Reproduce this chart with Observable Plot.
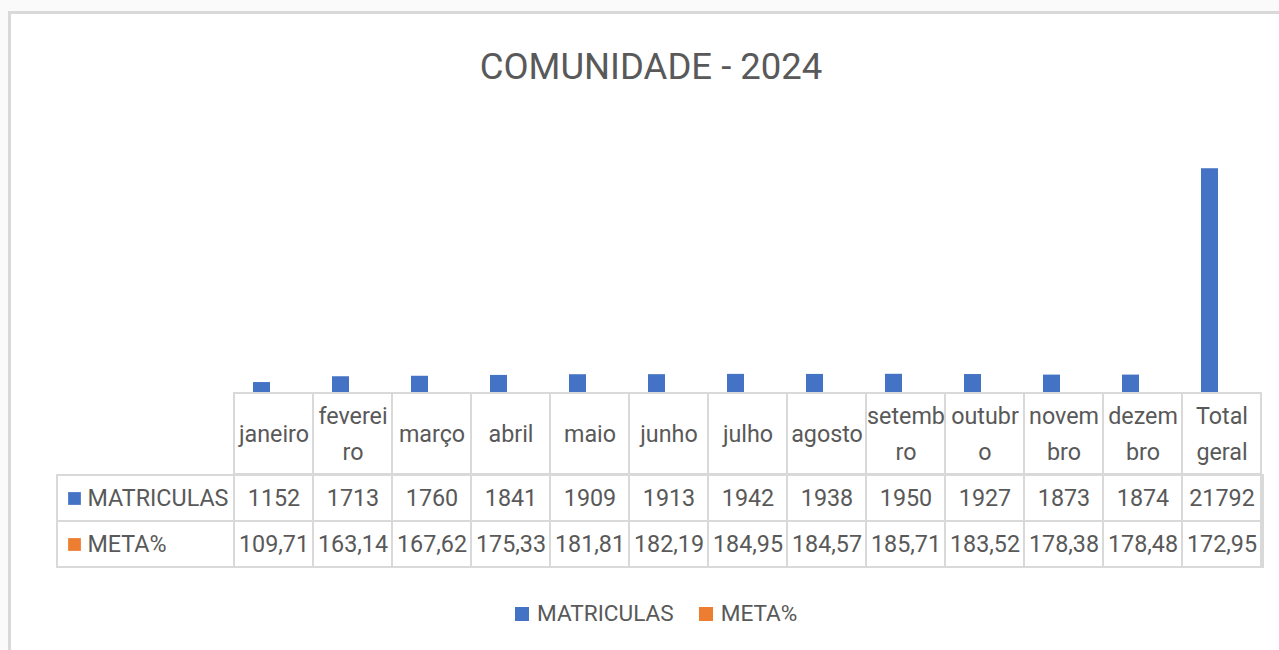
<!DOCTYPE html>
<html>
<head>
<meta charset="utf-8">
<script src="https://cdn.jsdelivr.net/npm/d3@7"></script>
<script src="https://cdn.jsdelivr.net/npm/@observablehq/plot@0.6"></script>
<style>
  html, body { margin: 0; padding: 0; background: #fafafa; }
  #root { position: relative; width: 1279px; height: 650px; overflow: hidden; font-family: Roboto, "Open Sans", sans-serif; color: #595959; }
  #frame { position: absolute; left: 8px; top: 11px; width: 1400px; height: 800px; border: 3px solid #d9d9d9; background: #ffffff; box-sizing: border-box; }
  #title { position: absolute; left: 0; top: 45px; width: 1302px; text-align: center; font-size: 36.5px; line-height: 44px; color: #595959; }
  .abs { position: absolute; left: 0; }
  #legend { position: absolute; left: 515px; top: 597px; }
  #legend svg { margin-right: 8px !important; }
  #legend span { margin-right: 25px !important; }
</style>
</head>
<body>
<div id="root">
  <div id="frame"></div>
  <div id="title">COMUNIDADE - 2024</div>
  <div id="bars" class="abs" style="top:135px"></div>
  <div id="header" class="abs" style="top:391px"></div>
  <div id="body" class="abs" style="top:472px"></div>
  <div id="legend"></div>
</div>
<script>
// ---- data ----
const months = ["janeiro","fevereiro","março","abril","maio","junho","julho","agosto","setembro","outubro","novembro","dezembro","Total geral"];
const headerLabels = ["janeiro","feverei\nro","março","abril","maio","junho","julho","agosto","setemb\nro","outubr\no","novem\nbro","dezem\nbro","Total\ngeral"];
const matriculas = [1152,1713,1760,1841,1909,1913,1942,1938,1950,1927,1873,1874,21792];
const meta = [109.71,163.14,167.62,175.33,181.81,182.19,184.95,184.57,185.71,183.52,178.38,178.48,172.95];
const series = ["MATRICULAS","META%"];
const colors = ["#4472c4","#ed7d31"];
const yMax = 25000;

const data = months.flatMap((m, i) => [
  {month: m, series: "MATRICULAS", value: matriculas[i]},
  {month: m, series: "META%", value: meta[i]}
]);
const fmt = d => d.series === "META%" ? d.value.toFixed(2).replace(".", ",") : String(d.value);

const FONT = "Roboto, 'Open Sans', sans-serif";
const TEXT = "#595959";
const GRID = "#d9d9d9";
const FS = 23.3;
const W = 1279, ML = 231, MR = 16;

// ---- bars ----
const bars = Plot.plot({
  width: W, height: 259,
  marginLeft: ML, marginRight: MR, marginTop: 0, marginBottom: 0,
  style: {fontFamily: FONT, background: "transparent", overflow: "visible"},
  fx: {domain: months, padding: 0, axis: null},
  x: {domain: series, paddingInner: 0, paddingOuter: 1.205, align: 0.43, axis: null},
  y: {domain: [0, yMax], axis: null},
  color: {domain: series, range: colors},
  marks: [
    Plot.barY(data, {fx: "month", x: "series", y: "value", fill: "series"})
  ]
});
document.getElementById("bars").appendChild(bars);

// ---- table header row ----
const header = Plot.plot({
  width: W, height: 85,
  marginLeft: ML, marginRight: MR, marginTop: 2, marginBottom: 2,
  style: {fontFamily: FONT, background: "transparent", color: TEXT, overflow: "visible"},
  x: {domain: months, padding: 0, axis: null},
  marks: [
    Plot.cell(months, {x: d => d, fill: "white", stroke: GRID, strokeWidth: 2}),
    Plot.text(months, {x: d => d, text: (d, i) => headerLabels[i], fontSize: FS, lineHeight: 1.55, dy: -4, fill: TEXT})
  ]
});
document.getElementById("header").appendChild(header);

// ---- table body rows ----
const body = Plot.plot({
  width: W, height: 97,
  marginLeft: 57, marginRight: MR, marginTop: 2, marginBottom: 2,
  style: {fontFamily: FONT, background: "transparent", color: TEXT, overflow: "visible"},
  x: {domain: months, padding: 0, range: [ML, W - MR], axis: null},
  y: {domain: series, padding: 0, axis: null},
  color: {domain: series, range: colors},
  marks: [
    Plot.cell(series, {y: d => d, fill: "white", stroke: GRID, strokeWidth: 2}),
    Plot.cell(data, {x: "month", y: "series", fill: "none", stroke: GRID, strokeWidth: 2}),
    Plot.text(data, {x: "month", y: "series", text: fmt, fontSize: FS, fill: TEXT}),
    Plot.dot(series, {y: d => d, frameAnchor: "left", dx: 17, symbol: "square", r: 7.2, fill: d => d}),
    Plot.text(series, {y: d => d, text: d => d, frameAnchor: "left", textAnchor: "start", dx: 30, fontSize: FS, fill: TEXT})
  ]
});
document.getElementById("body").appendChild(body);

// ---- legend ----
const legend = Plot.legend({
  color: {type: "ordinal", domain: series, range: colors},
  legend: "swatches",
  swatchSize: 14,
  style: {fontFamily: FONT, fontSize: "22.6px", color: TEXT}
});
document.getElementById("legend").appendChild(legend);
</script>
</body>
</html>
